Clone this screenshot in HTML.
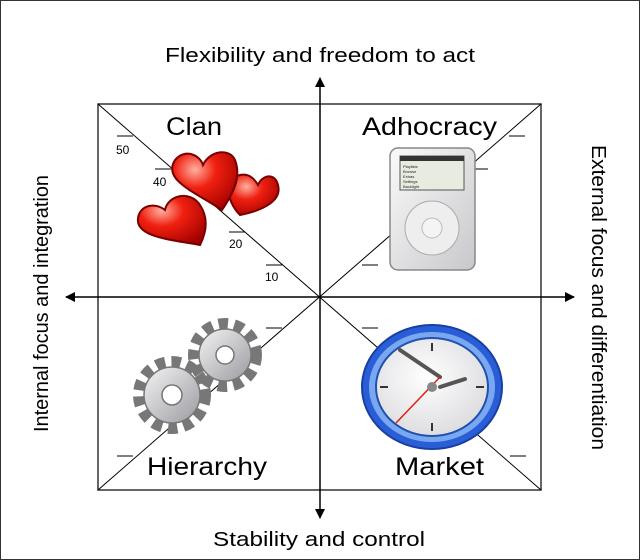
<!DOCTYPE html>
<html><head><style>
body{margin:0;background:#fff;}
svg{display:block;font-family:"Liberation Sans",sans-serif;}
</style></head><body>
<svg width="640" height="560" viewBox="0 0 640 560">
<defs>
<radialGradient id="hg" cx="0.35" cy="0.3" r="0.8"><stop offset="0" stop-color="#ffb0a0"/><stop offset="0.4" stop-color="#f02010"/><stop offset="1" stop-color="#a00000"/></radialGradient>
<linearGradient id="ip" x1="0" y1="0" x2="1" y2="1"><stop offset="0" stop-color="#fafafa"/><stop offset="1" stop-color="#c8c8cc"/></linearGradient>
<radialGradient id="cf" cx="0.45" cy="0.4" r="0.7"><stop offset="0" stop-color="#fff"/><stop offset="1" stop-color="#d8d8dc"/></radialGradient>
<linearGradient id="gr" x1="0" y1="0" x2="1" y2="1"><stop offset="0" stop-color="#f4f4f4"/><stop offset="1" stop-color="#9a9aa0"/></linearGradient>
<marker id="a" markerWidth="10" markerHeight="10" refX="9" refY="5" orient="auto" markerUnits="userSpaceOnUse"><path d="M0,0 L10,5 L0,10 Z" fill="#000"/></marker>
</defs>
<rect x="0.5" y="0.5" width="639" height="559" fill="none" stroke="#333"/>
<rect x="98" y="104" width="443" height="386" fill="none" stroke="#333" stroke-width="1.5"/>
<line x1="98" y1="104" x2="541" y2="490" stroke="#000"/>
<line x1="541" y1="104" x2="98" y2="490" stroke="#000"/>
<line x1="320" y1="297" x2="320" y2="78" stroke="#000" stroke-width="1.5" marker-end="url(#a)"/>
<line x1="320" y1="297" x2="320" y2="518" stroke="#000" stroke-width="1.5" marker-end="url(#a)"/>
<line x1="320" y1="297" x2="66" y2="297" stroke="#000" stroke-width="1.5" marker-end="url(#a)"/>
<line x1="320" y1="297" x2="574" y2="297" stroke="#000" stroke-width="1.5" marker-end="url(#a)"/>
<g stroke="#000" stroke-width="1">
<line x1="117" y1="136" x2="133" y2="136"/><line x1="155" y1="169" x2="171" y2="169"/><line x1="229" y1="232" x2="245" y2="232"/><line x1="266" y1="265" x2="282" y2="265"/>
<line x1="509" y1="136" x2="525" y2="136"/><line x1="472" y1="169" x2="488" y2="169"/><line x1="362" y1="265" x2="378" y2="265"/>
<line x1="362" y1="328" x2="378" y2="328"/><line x1="510" y1="456" x2="526" y2="456"/>
<line x1="266" y1="328" x2="282" y2="328"/><line x1="117" y1="456" x2="133" y2="456"/>
</g>
<g font-size="12" fill="#000">
<text x="116" y="154">50</text><text x="153" y="186">40</text><text x="229" y="248">20</text><text x="265" y="281">10</text>
</g>
<g font-size="25" fill="#000" lengthAdjust="spacingAndGlyphs">
<text x="166" y="135" textLength="56" lengthAdjust="spacingAndGlyphs">Clan</text>
<text x="362" y="135" textLength="135" lengthAdjust="spacingAndGlyphs">Adhocracy</text>
<text x="147" y="475" textLength="120" lengthAdjust="spacingAndGlyphs">Hierarchy</text>
<text x="395" y="475" textLength="89" lengthAdjust="spacingAndGlyphs">Market</text>
</g>
<g font-size="20" fill="#000">
<text x="165" y="62" textLength="310" lengthAdjust="spacingAndGlyphs">Flexibility and freedom to act</text>
<text x="213" y="546" textLength="212" lengthAdjust="spacingAndGlyphs">Stability and control</text>
<text transform="translate(48,432) rotate(-90)" textLength="257" lengthAdjust="spacingAndGlyphs">Internal focus and integration</text>
<text transform="translate(592,145) rotate(90)" textLength="305" lengthAdjust="spacingAndGlyphs">External focus and differentiation</text>
</g>
<!-- hearts -->
<g stroke="#700" stroke-width="2" fill="url(#hg)">
<path d="M240,215 C225,200 225,178 240,175 C250,173 255,180 258,185 C262,175 275,172 278,185 C282,200 265,210 240,215 Z"/>
<path d="M222,210 C195,192 162,180 175,160 C185,148 200,155 203,165 C210,150 230,148 235,160 C242,178 232,195 222,210 Z"/>
<path d="M200,245 C175,240 135,238 138,218 C140,205 155,202 165,210 C168,195 190,190 200,205 C210,220 205,235 200,245 Z"/>
</g>
<!-- ipod -->
<rect x="390" y="148" width="85" height="122" rx="8" fill="url(#ip)" stroke="#888" stroke-width="1.5"/>
<rect x="400" y="156" width="64" height="34" fill="#e8ece0" stroke="#555"/>
<rect x="400" y="156" width="64" height="5" fill="#333"/>
<g fill="#222" font-size="4"><text x="403" y="168">Playlists</text><text x="403" y="173">Browse</text><text x="403" y="178">Extras</text><text x="403" y="183">Settings</text><text x="403" y="188">Backlight</text></g>
<circle cx="432" cy="228" r="27" fill="#eee" stroke="#aaa"/>
<circle cx="432" cy="228" r="10" fill="#f4f4f4" stroke="#bbb"/>
<!-- gears -->
<g fill="url(#gr)" stroke="#777" stroke-width="1.5">
<circle cx="225" cy="355" r="30" stroke-dasharray="9 6" stroke-width="14" fill="none"/>
<circle cx="225" cy="355" r="26"/>
<circle cx="225" cy="355" r="9" fill="#fff"/>
<circle cx="172" cy="395" r="32" stroke-dasharray="9 6" stroke-width="14" fill="none"/>
<circle cx="172" cy="395" r="28"/>
<circle cx="172" cy="395" r="10" fill="#fff"/>
</g>
<!-- clock -->
<ellipse cx="432" cy="387" rx="70" ry="62" fill="#2a5ed8" stroke="#1840a0" stroke-width="2"/>
<ellipse cx="432" cy="387" rx="63" ry="55" fill="#7aa8f0"/>
<ellipse cx="432" cy="387" rx="56" ry="49" fill="url(#cf)" stroke="#2050b0" stroke-width="2"/>
<g stroke="#333" stroke-width="2">
<line x1="432" y1="343" x2="432" y2="351"/><line x1="432" y1="423" x2="432" y2="431"/>
<line x1="380" y1="387" x2="388" y2="387"/><line x1="476" y1="387" x2="484" y2="387"/>
</g>
<line x1="400" y1="350" x2="440" y2="377" stroke="#555" stroke-width="4" stroke-linecap="round"/>
<line x1="440" y1="387" x2="465" y2="379" stroke="#555" stroke-width="4" stroke-linecap="round"/>
<line x1="396" y1="423" x2="440" y2="377" stroke="#e02010" stroke-width="1.5"/>
<circle cx="432" cy="387" r="5" fill="#888"/>
</svg>
</body></html>
